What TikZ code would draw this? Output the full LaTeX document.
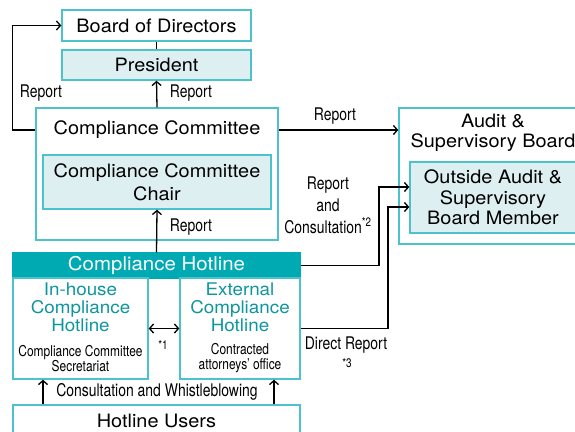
\documentclass[tikz,border=0pt]{standalone}
\usepackage{fontspec}
\setmainfont{TeX Gyre Heros}[FakeStretch=1.08]
\newfontfamily\condfont{TeX Gyre Heros}[FakeStretch=0.8]
\usepackage{tikz}
\usetikzlibrary{arrows.meta,calc}
\definecolor{hlteal}{RGB}{0,170,178}
\definecolor{boxline}{RGB}{76,194,203}
\definecolor{boxfill}{RGB}{222,239,242}
\definecolor{tealtext}{RGB}{14,150,158}

\begin{document}
\begin{tikzpicture}[x=1bp,y=-1bp,line width=1.3bp,
		>={Straight Barb[length=4bp,width=9bp]},
		box/.style={draw=boxline,fill=white,line width=1.4bp,inner sep=0pt,align=center,
			font=\fontsize{18.5}{20.5}\selectfont},
		lightbox/.style={box,fill=boxfill},
		hltext/.style={text=tealtext,align=center,inner sep=0pt,font=\fontsize{17.5}{18}\selectfont},
		lbl/.style={align=center,inner sep=0pt,font=\condfont\fontsize{17.5}{22}\selectfont},
		smalllbl/.style={align=center,inner sep=0pt,font=\condfont\fontsize{15}{15}\selectfont},
		note/.style={inner sep=0pt,font=\condfont\fontsize{12.5}{12}\selectfont}]
		\useasboundingbox (0,0) rectangle (575,431);
%
		\node[box,minimum width=189bp,minimum height=31bp] (bod) at (156.5,25.5) {Board of Directors};
		\node[lightbox,minimum width=189bp,minimum height=30bp] (pres) at (156.5,65) {President};
		\node[box,minimum width=242bp,minimum height=132bp] (cc) at (157,174) {};
		\node[font=\fontsize{18.5}{20.5}\selectfont] (cctitle) at (157,130) {Compliance Committee};
		\node[lightbox,minimum width=228bp,minimum height=54bp,font=\fontsize{18.5}{23.5}\selectfont] (chair) at (157,182) {Compliance Committee\\Chair};
		\node[box,minimum width=188bp,minimum height=136bp] (aud) at (493,176) {};
		\node[align=center,font=\fontsize{18.5}{20.5}\selectfont] (audtitle) at (493,133) {Audit \&\\Supervisory Board};
		\node[lightbox,minimum width=166bp,minimum height=71bp] (out) at (493,197.5) {Outside Audit \&\\Supervisory\\Board Member};
%
		\node[box,fill=hlteal,draw=hlteal,text=white,minimum width=287bp,minimum height=25bp,font=\fontsize{19}{20}\selectfont] (hl) at (156.5,265.5) {Compliance Hotline};
		\node[box,minimum width=135bp,minimum height=101bp] (inh) at (80.5,328.5) {};
		\node[hltext] (inhname) at (80.5,307) {In-house\\Compliance\\Hotline};
		\node[smalllbl] (inhsec) at (80.5,358.5) {Compliance Committee\\Secretariat};
		\node[box,minimum width=120bp,minimum height=101bp] (ext) at (240,328.5) {};
		\node[hltext] (extname) at (240,307) {External\\Compliance\\Hotline};
		\node[smalllbl] (extsec) at (240,358.5) {Contracted\\attorneys’ office};
		\node[box,minimum width=287bp,minimum height=32bp] (users) at (156.5,421) {Hotline Users};
%
		\coordinate (j1) at (379,187);
		\coordinate (j2) at (388,207);
		\coordinate (u1) at (43,0);
		\coordinate (u2) at (274,0);
		\draw[->] (cctitle -| cc.west) -- ++(-23,0) |- (bod.west);
		\draw (bod.south) -- (pres.north);
		\draw[->] (cc.north) -- (pres.south);
		\draw[->] (hl.north) -- (chair.south);
		\draw[->] (cctitle -| cc.east) -- (cctitle -| aud.west);
		\draw[->] (hl.east) -| (j1) -- (j1 -| out.west);
		\draw[->] (ext.east) -| (j2) -- (j2 -| out.west);
		\draw[<->] (inh.east) -- (ext.west);
		\draw[->] (users.north -| u1) -- (inh.south -| u1);
		\draw[->] (users.north -| u2) -- (ext.south -| u2);
%
		\node[lbl] (rep1) at (41,93) {Report};
		\node[lbl] (rep2) at (191,93) {Report};
		\node[lbl] (rep3) at (191,227) {Report};
		\node[lbl] (rep4) at (335,116) {Report};
		\node[lbl] (rep5) at (328,205) {Report\\and\\Consultation\textsuperscript{*2}};
		\node[lbl] (direct) at (346,345) {Direct Report};
		\node[note] (n3) at (347,363) {*3};
		\node[note] (n1) at (163,345) {*1};
		\node[lbl] (consult) at (157,392) {Consultation and Whistleblowing};
	\end{tikzpicture}
\end{document}
